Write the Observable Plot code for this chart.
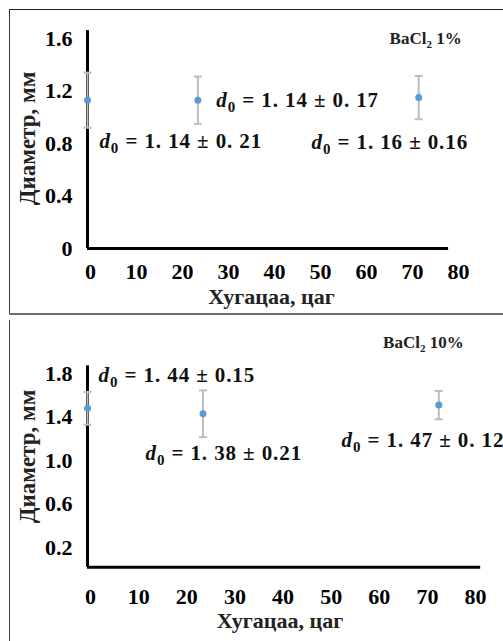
<!DOCTYPE html>
<html>
<head>
<meta charset="utf-8">
<script src="https://cdn.jsdelivr.net/npm/d3@7"></script>
<script src="https://cdn.jsdelivr.net/npm/@observablehq/plot@0.6"></script>
<style>
  html, body { margin: 0; padding: 0; background: white; }
  #wrap { position: relative; width: 503px; height: 641px; overflow: hidden; }
  .panel { position: absolute; left: 0; }
  .line { position: absolute; z-index: 5; }
  #wrap svg, #wrap svg text, #wrap svg tspan { font-family: "Liberation Serif", "Times New Roman", serif !important; }
</style>
</head>
<body>
<div id="wrap">
  <div id="top" class="panel" style="top:0px"></div>
  <div id="bottom" class="panel" style="top:320px"></div>
  <div class="line" style="left:9px;top:9px;width:494px;height:1px;background:#222"></div>
  <div class="line" style="left:9px;top:9px;width:1px;height:306px;background:#333"></div>
  <div class="line" style="left:9px;top:313px;width:494px;height:2px;background:#6e6e6e"></div>
  <div class="line" style="left:9px;top:320px;width:1px;height:321px;background:#444"></div>
</div>
<script>
// ---------- data ----------
const xTicks = [0, 10, 20, 30, 40, 50, 60, 70, 80];

// Panel 1: BaCl2 1%
const titleTop = "BaCl₂ 1%";
const timesTop = [0, 24, 72];
const meansTop = [1.13, 1.13, 1.15];
const errsTop = [0.21, 0.18, 0.165];
const yTicksTop = [0, 0.4, 0.8, 1.2, 1.6];
const labelsTop = ["d₀ = 1. 14 ± 0. 21", "d₀ = 1. 14 ± 0. 17", "d₀ = 1. 16 ± 0.16"];
const labelXTop = [2.6, 28, 48.7];
const labelYTop = [0.815, 1.13, 0.81];

// Panel 2: BaCl2 10%
const titleBottom = "BaCl₂ 10%";
const timesBottom = [0, 24, 73];
const meansBottom = [1.48, 1.43, 1.51];
const errsBottom = [0.15, 0.215, 0.13];
const yTicksBottom = [0.2, 0.6, 1.0, 1.4, 1.8];
const labelsBottom = ["d₀ = 1. 44 ± 0.15", "d₀ = 1. 38 ± 0.21", "d₀ = 1. 47 ± 0. 12"];
const labelXBottom = [2.3, 12.05, 52.8];
const labelYBottom = [1.78, 1.065, 1.19];

const xLabel = "Хугацаа, цаг";
const yLabel = "Диаметр, мм";

// ---------- drawing ----------
const serif = "'Liberation Serif', 'Times New Roman', serif";
const blue = "#5b9bd5";
const gray = "#bdbdbd";
const capSymbol = { draw(ctx) { ctx.moveTo(-4, 0); ctx.lineTo(4, 0); } };
const fmt = d => d === 0 ? "0" : d.toFixed(1);

function panel(cfg) {
  const pts = cfg.times.map((t, i) => ({t, m: cfg.means[i], e: cfg.errs[i]}));
  const caps = pts.flatMap(d => [{t: d.t, v: d.m - d.e}, {t: d.t, v: d.m + d.e}]);
  const ann = cfg.labels.map((s, i) => ({s, x: cfg.lx[i], y: cfg.ly[i]}));
  return Plot.plot({
    width: 503,
    height: cfg.height,
    marginLeft: 87,
    marginRight: cfg.mr,
    marginTop: cfg.mt,
    marginBottom: cfg.mb,
    style: {fontFamily: serif, fontSize: "21px", fontWeight: "bold", color: "black", background: "transparent", overflow: "visible"},
    x: {domain: [0, 80]},
    y: {domain: cfg.ydomain},
    marks: [
      Plot.axisY(cfg.yTicks, {tickSize: 0, tickPadding: 15, tickFormat: fmt, label: null, fontSize: 22}),
      Plot.axisX(xTicks, {tickSize: 0, tickPadding: cfg.xpad, label: null, dx: cfg.xdx, fontSize: 22}),
      Plot.ruleX([0], {y1: cfg.axisFrom, y2: cfg.axisTop, stroke: "black", strokeWidth: 3}),
      Plot.ruleY([cfg.axisFrom], {x1: 0, x2: cfg.axisRight, stroke: "black", strokeWidth: 3}),
      Plot.ruleX(pts, {x: "t", y1: d => d.m - d.e, y2: d => d.m + d.e, stroke: gray, strokeWidth: 2}),
      Plot.dot(caps, {x: "t", y: "v", symbol: capSymbol, stroke: gray, strokeWidth: 2, fill: "none"}),
      Plot.dot(pts, {x: "t", y: "m", r: 3.5, fill: blue}),
      Plot.text(ann, {x: "x", y: "y", text: "s", textAnchor: "start", fontSize: 21, fill: "#111"}),
      Plot.text([cfg.title], {x: cfg.tx, y: cfg.ty, fontSize: 17, fill: "#222"}),
      Plot.text([xLabel], {frameAnchor: "bottom", lineAnchor: "middle", textAnchor: "middle", dy: cfg.xldy, fontSize: 22, fill: "#222"}),
      Plot.text([yLabel], {frameAnchor: "left", lineAnchor: "middle", textAnchor: "middle", rotate: -90, dx: -60, dy: cfg.yldy, fontSize: 23, fill: "#222"})
    ]
  });
}

function styleSubscripts(svg) {
  svg.querySelectorAll("text").forEach(el => {
    const s = el.textContent;
    const ns = "http://www.w3.org/2000/svg";
    if (s.startsWith("d₀")) {
      const rest = s.slice(2);
      el.textContent = "";
      el.setAttribute("letter-spacing", "0.9");
      const a = document.createElementNS(ns, "tspan");
      a.setAttribute("font-style", "italic"); a.textContent = "d";
      const b = document.createElementNS(ns, "tspan");
      b.setAttribute("font-size", "15"); b.setAttribute("dy", "5"); b.textContent = "0";
      const c = document.createElementNS(ns, "tspan");
      c.setAttribute("dy", "-5"); c.textContent = rest;
      el.append(a, b, c);
    } else if (s.startsWith("BaCl₂")) {
      const rest = s.slice(5);
      el.textContent = "";
      const a = document.createElementNS(ns, "tspan"); a.textContent = "BaCl";
      const b = document.createElementNS(ns, "tspan");
      b.setAttribute("font-size", "11"); b.setAttribute("dy", "4"); b.textContent = "2";
      const c = document.createElementNS(ns, "tspan");
      c.setAttribute("dy", "-4"); c.textContent = rest;
      el.append(a, b, c);
    }
  });
  return svg;
}

const svgTop = panel({
  height: 320, mr: 48, mt: 38, mb: 72, ydomain: [0, 1.6], yTicks: yTicksTop,
  xpad: 15, xdx: 3, axisFrom: 0, axisTop: 1.66, axisRight: 78.5,
  times: timesTop, means: meansTop, errs: errsTop,
  labels: labelsTop, lx: labelXTop, ly: labelYTop,
  title: titleTop, tx: 73.5, ty: 1.6, xldy: 48, yldy: -5
});
const svgBottom = panel({
  height: 321, mr: 31, mt: 53, mb: 72, ydomain: [0, 1.8], yTicks: yTicksBottom,
  xpad: 19, xdx: 3, axisFrom: 0.02, axisTop: 1.87, axisRight: 81.7,
  times: timesBottom, means: meansBottom, errs: errsBottom,
  labels: labelsBottom, lx: labelXBottom, ly: labelYBottom,
  title: titleBottom, tx: 69.8, ty: 2.08, xldy: 51, yldy: -15
});
document.getElementById("top").append(styleSubscripts(svgTop));
document.getElementById("bottom").append(styleSubscripts(svgBottom));
</script>
</body>
</html>
